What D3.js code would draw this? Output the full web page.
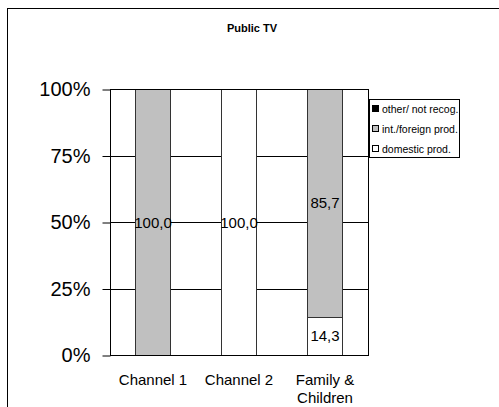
<!DOCTYPE html>
<html><head><meta charset="utf-8">
<script src="https://cdn.jsdelivr.net/npm/d3@7"></script>
<style>
html,body{margin:0;padding:0;background:#fff;}
svg{display:block;font-family:"Liberation Sans",Arial,sans-serif;}
</style></head>
<body><div id="chart"></div>
<script>
const title = "Public TV";
const categories = ["Channel 1", "Channel 2", "Family & Children"];
const categoryLines = [["Channel 1"], ["Channel 2"], ["Family &", "Children"]];
const seriesNames = ["domestic prod.", "int./foreign prod.", "other/ not recog."];
const domestic = [0, 100.0, 14.3];
const foreign = [100.0, 0, 85.7];
const other = [0, 0, 0];
const tickValues = [0, 25, 50, 75, 100];
const tickLabels = ["0%", "25%", "50%", "75%", "100%"];
const colors = ["#ffffff", "#c0c0c0", "#000000"];

(function () {
const W = 499, H = 407;
const svg = d3.select("#chart").append("svg").attr("width", W).attr("height", H);

// outer frame
svg.append("rect").attr("x", 7.5).attr("y", 8.5).attr("width", 520).attr("height", 420)
  .attr("fill", "#fff").attr("stroke", "#000").attr("stroke-width", 1);

svg.append("text").attr("x", 252).attr("y", 32).attr("text-anchor", "middle")
  .attr("font-size", 11).attr("font-weight", "bold").text(title);

const pLeft = 110, pRight = 368, pTop = 89, pBottom = 355;
const x = d3.scaleBand().domain(categories).range([pLeft, pRight]).paddingInner(0.593).paddingOuter(0.2965);
const y = d3.scaleLinear().domain([0, 100]).range([pBottom, pTop]);

// gridlines
svg.append("g").selectAll("line").data(tickValues.filter(v => v > 0 && v < 100)).join("line")
  .attr("x1", pLeft).attr("x2", pRight)
  .attr("y1", d => Math.round(y(d)) + 0.5).attr("y2", d => Math.round(y(d)) + 0.5)
  .attr("stroke", "#000");

// stack
const rows = categories.map((c, i) => ({cat: c, d: domestic[i], f: foreign[i], o: other[i]}));
const stack = d3.stack().keys(["d", "f", "o"])(rows);

const g = svg.append("g");
stack.forEach((layer, li) => {
  g.selectAll(null).data(layer.filter(s => s[1] - s[0] > 0)).join("rect")
    .attr("x", s => Math.round(x(s.data.cat)) + 0.5)
    .attr("y", s => Math.round(y(s[1])) + 0.5)
    .attr("width", Math.round(x.bandwidth()))
    .attr("height", s => Math.round(y(s[0])) - Math.round(y(s[1])))
    .attr("fill", colors[li]).attr("stroke", "#333").attr("stroke-width", 1);
});

// plot border
svg.append("rect").attr("x", pLeft + 0.5).attr("y", pTop + 0.5)
  .attr("width", pRight - pLeft).attr("height", pBottom - pTop)
  .attr("fill", "none").attr("stroke", "#000");

// value labels
stack.forEach((layer) => {
  g.selectAll(null).data(layer.filter(s => s[1] - s[0] > 0)).join("text")
    .attr("x", s => x(s.data.cat) + x.bandwidth() / 2)
    .attr("y", s => y((s[0] + s[1]) / 2) + 5.5)
    .attr("text-anchor", "middle").attr("font-size", 15).attr("fill", "#000")
    .text(s => (s[1] - s[0]).toFixed(1).replace(".", ","));
});

// y axis
const yAxis = d3.axisLeft(y).tickValues(tickValues).tickFormat((d, i) => tickLabels[i]).tickSize(8).tickPadding(12);
const ya = svg.append("g").attr("transform", `translate(${pLeft + 0.5},0.5)`).call(yAxis);
ya.select(".domain").remove();
ya.selectAll("line").attr("stroke", "#000");
ya.selectAll("text").attr("font-size", 20).attr("fill", "#000").attr("font-family", "Liberation Sans, Arial, sans-serif");

// x labels
const xl = svg.append("g");
categories.forEach((c, i) => {
  const t = xl.append("text").attr("x", x(c) + x.bandwidth() / 2).attr("y", 385)
    .attr("text-anchor", "middle").attr("font-size", 15).attr("fill", "#000");
  categoryLines[i].forEach((ln, j) => {
    t.append("tspan").attr("x", x(c) + x.bandwidth() / 2).attr("dy", j === 0 ? 0 : 18).text(ln);
  });
});

// legend
const lg = svg.append("g");
lg.append("rect").attr("x", 369.5).attr("y", 99.5).attr("width", 90).attr("height", 58)
  .attr("fill", "#fff").attr("stroke", "#000");
const legendOrder = [2, 1, 0];
legendOrder.forEach((si, k) => {
  const yy = 109 + k * 20;
  lg.append("rect").attr("x", 372.5).attr("y", yy - 3.5).attr("width", 6).attr("height", 6)
    .attr("fill", colors[si]).attr("stroke", "#000");
  lg.append("text").attr("x", 382).attr("y", yy + 3.5).attr("font-size", 10.5).attr("fill", "#000")
    .text(seriesNames[si]);
});
})();
</script></body></html>
